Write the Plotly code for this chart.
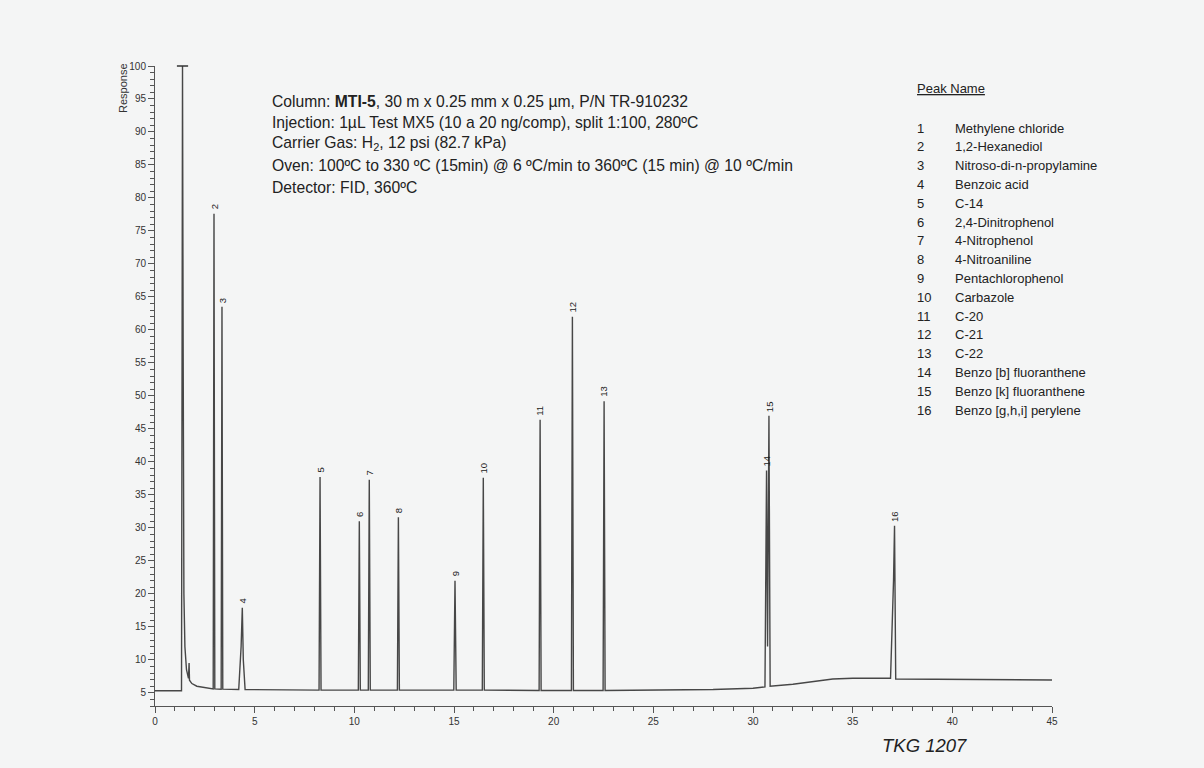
import plotly.graph_objects as go

# Chromatogram trace (time in min, detector response)
time_min = [0, 1.33, 1.36, 1.38, 1.41, 1.45, 1.50, 1.58, 1.68, 1.71, 1.73, 1.85, 2.1, 2.5, 2.9,
            2.92, 2.96, 3.00, 3.32, 3.36, 3.40,
            4.20, 4.32, 4.38, 4.43, 4.52,
            8.23, 8.28, 8.33, 10.20, 10.25, 10.30, 10.70, 10.75, 10.80,
            12.16, 12.21, 12.26, 14.99, 15.05, 15.11, 16.42, 16.47, 16.52,
            19.27, 19.32, 19.37, 20.89, 20.94, 20.99, 22.48, 22.53, 22.58,
            25.0, 28.0, 30.0, 30.6, 30.68, 30.73, 30.80, 30.86,
            32.0, 33.0, 34.0, 35.0, 36.9, 37.05, 37.1, 37.16, 40.0, 45.0]
response = [5.3, 5.3, 60, 100, 60, 20, 12, 8.5, 7.2, 9.5, 6.9, 6.4, 6.0, 5.8, 5.6,
            5.6, 77.6, 5.6, 5.55, 63.5, 5.55,
            5.5, 12, 17.9, 10, 5.5,
            5.4, 37.7, 5.4, 5.4, 31.0, 5.4, 5.4, 37.3, 5.4,
            5.4, 31.6, 5.4, 5.4, 22.0, 5.4, 5.4, 37.6, 5.4,
            5.35, 46.4, 5.35, 5.35, 62.0, 5.35, 5.35, 49.2, 5.35,
            5.4, 5.5, 5.7, 5.9, 38.7, 12, 47.0, 6.0,
            6.3, 6.7, 7.1, 7.2, 7.2, 22, 30.3, 7.1, 7.05, 6.95]

# Peak label positions
peak_ids = ["2", "3", "4", "5", "6", "7", "8", "9", "10", "11", "12", "13", "14", "15", "16"]
peak_rt = [2.96, 3.36, 4.38, 8.28, 10.25, 10.75, 12.21, 15.05, 16.47, 19.32, 20.94, 22.53, 30.68, 30.80, 37.1]
peak_h = [77.6, 63.5, 17.9, 37.7, 31.0, 37.3, 31.6, 22.0, 37.6, 46.4, 62.0, 49.2, 38.7, 47.0, 30.3]

# Peak name table
legend_nums = [str(i) for i in range(1, 17)]
legend_names = ["Methylene chloride", "1,2-Hexanediol", "Nitroso-di-n-propylamine", "Benzoic acid",
                "C-14", "2,4-Dinitrophenol", "4-Nitrophenol", "4-Nitroaniline", "Pentachlorophenol",
                "Carbazole", "C-20", "C-21", "C-22", "Benzo [b] fluoranthene",
                "Benzo [k] fluoranthene", "Benzo [g,h,i] perylene"]

conditions = [
    "Column: <b>MTI-5</b>, 30 m x 0.25 mm x 0.25 µm, P/N TR-910232",
    "Injection: 1µL Test MX5 (10 a 20 ng/comp), split 1:100, 280ºC",
    "Carrier Gas: H<sub>2</sub>, 12 psi (82.7 kPa)",
    "Oven: 100ºC to 330 ºC (15min) @ 6 ºC/min to 360ºC (15 min) @ 10 ºC/min",
    "Detector: FID, 360ºC",
]

BG = "#f4f5f5"
INK = "#333333"
FONT = "Liberation Sans, Arial, sans-serif"

fig = go.Figure()
fig.add_trace(go.Scatter(x=time_min, y=response, mode="lines",
                         line=dict(color="#474747", width=1.4), hoverinfo="skip"))
# off-scale marker at top of solvent peak
fig.add_trace(go.Scatter(x=[time_min[3]], y=[response[3]], mode="markers", cliponaxis=False,
                         marker=dict(symbol="line-ew-open", size=8, color="#333333",
                                     line=dict(color="#333333", width=1.5)),
                         hoverinfo="skip"))

annotations = []
for pid, rt, h in zip(peak_ids, peak_rt, peak_h):
    annotations.append(dict(x=rt, y=h, xref="x", yref="y", text=pid, showarrow=False,
                            textangle=-90, xanchor="center", yanchor="bottom", yshift=2,
                            font=dict(family=FONT, size=9.5, color="#222222")))

y0 = 101
for i, line in enumerate(conditions):
    annotations.append(dict(x=270, y=768 - (y0 + i * 21.5), xref="paper", yref="paper",
                            text=line, showarrow=False, xanchor="left", yanchor="middle",
                            font=dict(family=FONT, size=15.7, color="#222222")))

annotations.append(dict(x=915, y=768 - 89, text="<u>Peak Name</u>", showarrow=False,
                        xanchor="left", yanchor="middle",
                        font=dict(family=FONT, size=13, color="#222222")))
for i, (n, name) in enumerate(zip(legend_nums, legend_names)):
    yy = 768 - (128 + i * 18.8)
    annotations.append(dict(x=915, y=yy, text=n, showarrow=False, xanchor="left", yanchor="middle",
                            font=dict(family=FONT, size=13, color="#222222")))
    annotations.append(dict(x=953, y=yy, text=name, showarrow=False, xanchor="left", yanchor="middle",
                            font=dict(family=FONT, size=13, color="#222222")))

annotations.append(dict(x=880, y=768 - 745, text="<i>TKG 1207</i>", showarrow=False,
                        xanchor="left", yanchor="middle",
                        font=dict(family=FONT, size=18.5, color="#222222")))
annotations.append(dict(x=123, y=768 - 88, text="Response", showarrow=False, textangle=-90,
                        xanchor="center", yanchor="middle",
                        font=dict(family=FONT, size=11, color=INK)))

# convert pixel-based paper annotations to fractions
W, H = 1204, 768
L, R, T, B = 155, 152, 66, 62
for a in annotations:
    if a.get("xref") != "x":
        a["xref"] = "paper"
        a["yref"] = "paper"
        a["x"] = (a["x"] - L) / (W - L - R)
        a["y"] = (a["y"] - B) / (H - T - B)

fig.update_layout(
    width=W, height=H,
    margin=dict(l=L, r=R, t=T, b=B, pad=0),
    paper_bgcolor=BG, plot_bgcolor=BG,
    showlegend=False,
    annotations=annotations,
    font=dict(family=FONT, color=INK),
    xaxis=dict(range=[0, 45], tickmode="array", tickvals=[0, 5, 10, 15, 20, 25, 30, 35, 40, 45],
               showgrid=False, zeroline=False, showline=True, linecolor="#555555", linewidth=1,
               ticks="outside", ticklen=6, tickcolor="#555555",
               minor=dict(dtick=1, ticks="outside", ticklen=4, tickcolor="#555555"),
               tickfont=dict(family=FONT, size=10, color=INK)),
    yaxis=dict(range=[3, 100], tickmode="array", tickvals=list(range(5, 101, 5)),
               showgrid=False, zeroline=False, showline=True, linecolor="#555555", linewidth=1,
               ticks="outside", ticklen=6, tickcolor="#555555",
               minor=dict(dtick=1, tick0=0, ticks="outside", ticklen=4, tickcolor="#555555"),
               tickfont=dict(family=FONT, size=10, color=INK)),
)

fig.write_html("out.html", config={"displayModeBar": False},
               post_script="document.body.style.margin='0';document.body.style.background='%s';" % BG)
